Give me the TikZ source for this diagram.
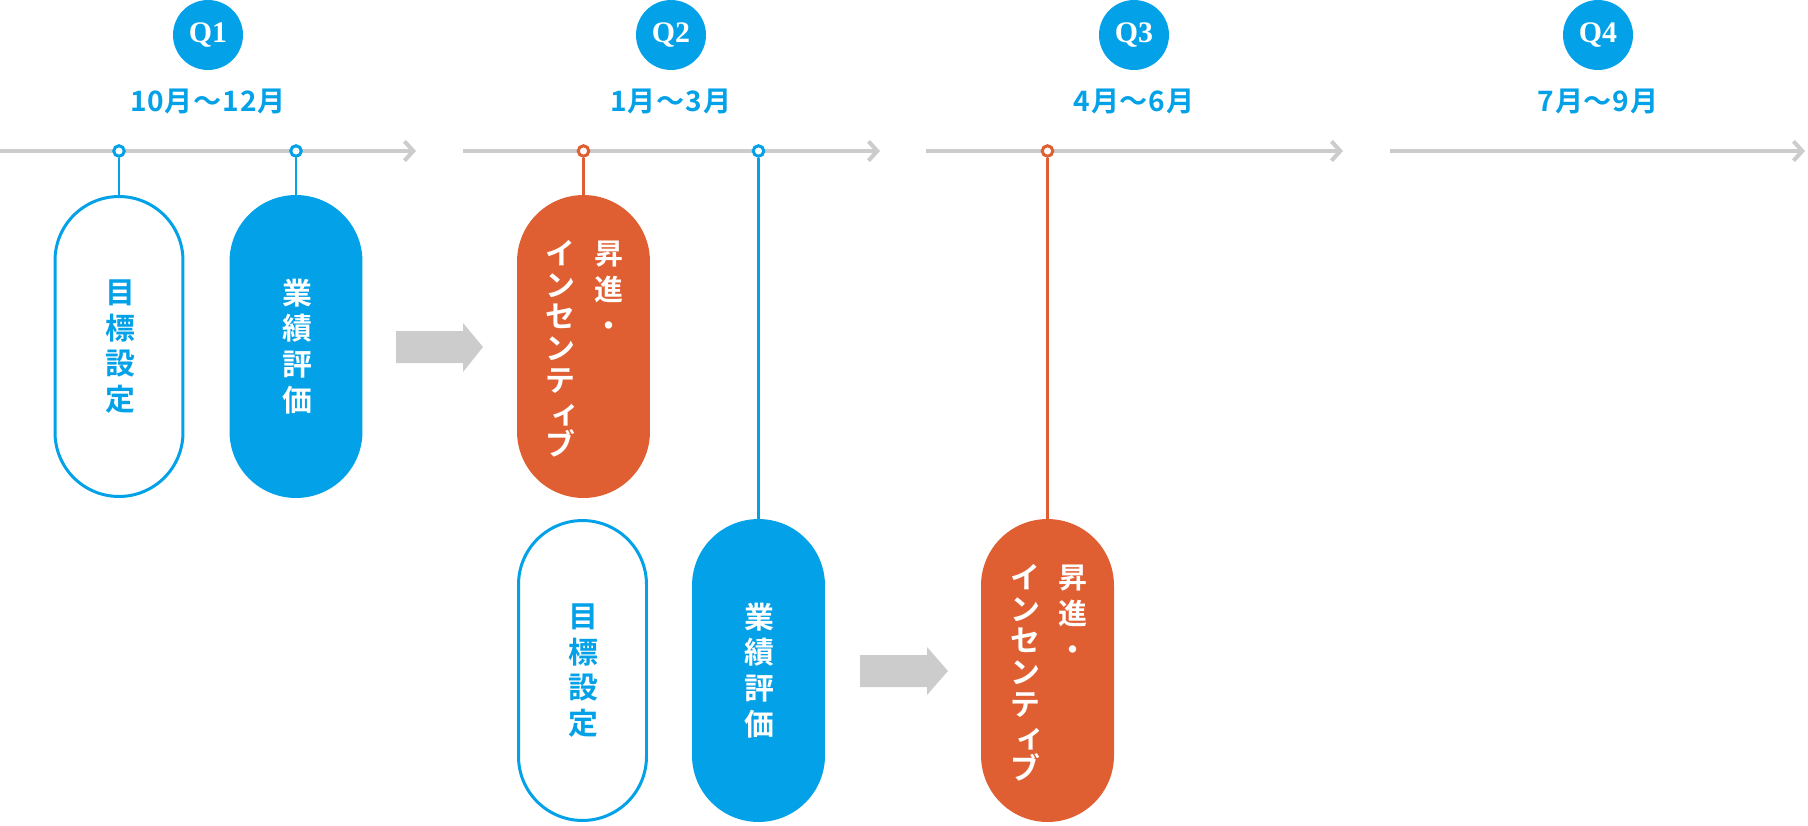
\documentclass[tikz,border=0pt]{standalone}
\usepackage{fontspec}
\usetikzlibrary{arrows.meta,calc}
\newfontfamily\jp{Noto Sans CJK JP}[BoldFont={Noto Sans CJK JP Bold}]
\newfontfamily\jpdate{Noto Sans CJK JP}[BoldFont={Noto Sans CJK JP Bold},LetterSpace=3]
\newfontfamily\qfont{Liberation Serif}
\definecolor{tlblue}{HTML}{03A1E8}
\definecolor{tlorange}{HTML}{E05F32}
\definecolor{tlgrey}{HTML}{CCCCCC}
\begin{document}
\begin{tikzpicture}[x=0.02cm,y=-0.02cm,
  tline/.style={tlgrey,line width=2.3pt,-{Straight Barb[length=5pt,width=11pt]}},
  qcirc/.style={circle,fill=tlblue,minimum size=1.4cm,inner sep=0,text=white,font=\qfont\bfseries\fontsize{17}{17}\selectfont},
  datelbl/.style={text=tlblue,inner sep=0,font=\jpdate\bfseries\fontsize{16}{18}\selectfont},
  marker/.style={circle,draw=#1,fill=white,line width=1.7pt,minimum size=6pt,inner sep=0},
  stem/.style={draw=#1,line width=1.7pt},
  pillout/.style={draw=tlblue,line width=1.7pt,fill=white,minimum width=2.56cm,minimum height=6.0cm,rounded corners=1.28cm,inner sep=0},
  pillfill/.style={fill=#1,minimum width=2.66cm,minimum height=6.06cm,rounded corners=1.33cm,inner sep=0},
  stackb/.style={font=\jp\bfseries\fontsize{17}{20.4}\selectfont,align=center,inner sep=0},
  stackk/.style={font=\jp\bfseries\fontsize{16.5}{20.6}\selectfont,align=center,inner sep=0,text=white,anchor=north},
  stackkana/.style={font=\jp\bfseries\fontsize{17}{18.1}\selectfont,align=center,inner sep=0,text=white,anchor=north},
  grey arrow/.style={fill=tlgrey}
]
\useasboundingbox (0,0) rectangle (1808,825);

% quarter headers
\node[qcirc] (q1) at (208,35) {Q1};
\node[qcirc] (q2) at (671,35) {Q2};
\node[qcirc] (q3) at (1134,35) {Q3};
\node[qcirc] (q4) at (1598,35) {Q4};
\node[datelbl] (d1) at (208,101) {10月〜12月};
\node[datelbl] (d2) at (671,101) {1月〜3月};
\node[datelbl] (d3) at (1134,101) {4月〜6月};
\node[datelbl] (d4) at (1598,101) {7月〜9月};

% timeline segments
\coordinate (a1) at (0,151);    \coordinate (b1) at (416,151);
\coordinate (a2) at (463,151);  \coordinate (b2) at (880,151);
\coordinate (a3) at (926,151);  \coordinate (b3) at (1343,151);
\coordinate (a4) at (1390,151); \coordinate (b4) at (1805,151);
\draw[tline] (a1) -- (b1);
\draw[tline] (a2) -- (b2);
\draw[tline] (a3) -- (b3);
\draw[tline] (a4) -- (b4);

% markers
\node[marker=tlblue] (m1) at (119,151) {};
\node[marker=tlblue] (m2) at (296,151) {};
\node[marker=tlorange] (m3) at (583.5,151) {};
\node[marker=tlblue] (m4) at (758.5,151) {};
\node[marker=tlorange] (m5) at (1047.5,151) {};

% pills
\node[pillout] (p1) at (119,346.5) {};
\node[pillfill=tlblue] (p2) at (296,346.5) {};
\node[pillfill=tlorange] (p3) at (583.5,346.5) {};
\node[pillout] (p4) at (582.5,670.5) {};
\node[pillfill=tlblue] (p5) at (758.5,670.5) {};
\node[pillfill=tlorange] (p6) at (1047.5,670.5) {};

% stems
\draw[stem=tlblue] (m1) -- (p1.north);
\draw[stem=tlblue] (m2) -- (p2.north);
\draw[stem=tlorange] (m3) -- (p3.north);
\draw[stem=tlblue] (m4) -- (p5.north);
\draw[stem=tlorange] (m5) -- (p6.north);

% pill texts
\node[stackb,text=tlblue] (t1) at ($(p1)+(1,0)$) {目\\標\\設\\定};
\node[stackb,text=white] (t2) at ($(p2)+(1,0)$) {業\\績\\評\\価};
\node[stackk] (t3a) at ($(p3.north)+(25,46)$) {昇\\進\\・};
\node[stackkana] (t3b) at ($(p3.north)+(-23,45)$) {イ\\ン\\セ\\ン\\テ\\\hspace*{0.3em}ィ\\ブ};
\node[stackb,text=tlblue] (t4) at ($(p4)+(1,0)$) {目\\標\\設\\定};
\node[stackb,text=white] (t5) at ($(p5)+(1,0)$) {業\\績\\評\\価};
\node[stackk] (t6a) at ($(p6.north)+(25,46)$) {昇\\進\\・};
\node[stackkana] (t6b) at ($(p6.north)+(-22,45)$) {イ\\ン\\セ\\ン\\テ\\\hspace*{0.3em}ィ\\ブ};

% grey block arrows
\fill[grey arrow] (396,331) -- (463,331) -- (463,323) -- (483,347) -- (463,372) -- (463,363) -- (396,363) -- cycle;
\fill[grey arrow] (860,655) -- (927,655) -- (927,647) -- (948,671) -- (927,695) -- (927,687) -- (860,687) -- cycle;
\end{tikzpicture}
\end{document}
